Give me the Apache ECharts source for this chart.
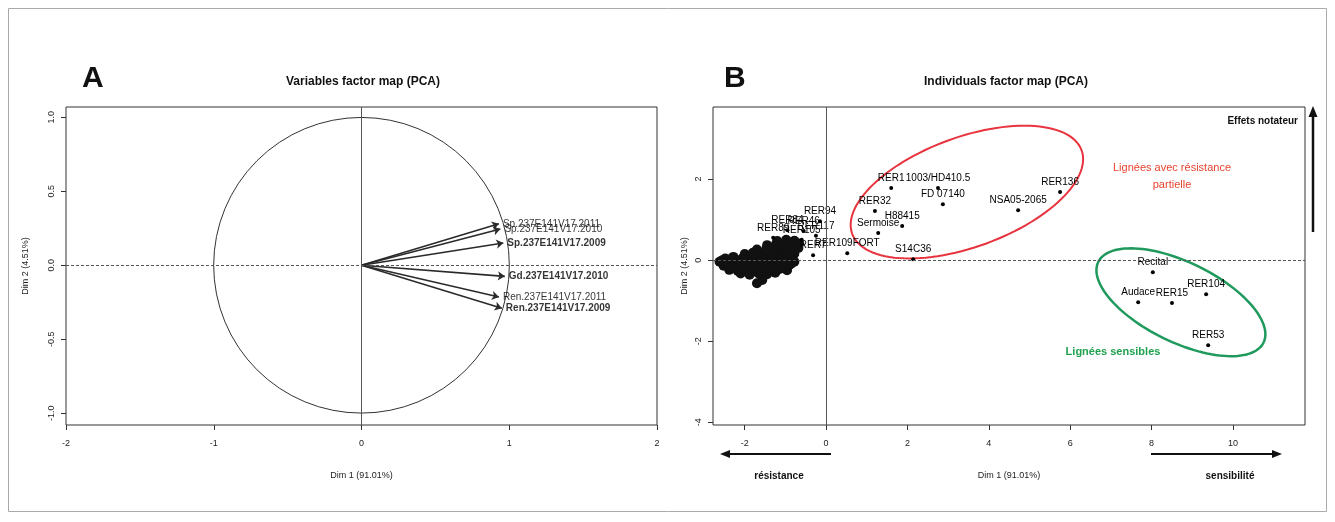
<!DOCTYPE html>
<html><head><meta charset="utf-8">
<script src="https://cdn.jsdelivr.net/npm/echarts@6/dist/echarts.min.js"></script>
<style>html,body{margin:0;padding:0;background:#fff}#c{width:1335px;height:522px}</style>
</head><body><div id="c"></div>
<script>
// ---------- Panel A : variables ----------
const varNames = ['Sp.237E141V17.2011','Sp.237E141V17.2010','Sp.237E141V17.2009','Gd.237E141V17.2010','Ren.237E141V17.2011','Ren.237E141V17.2009'];
const varX = [0.93, 0.94, 0.96, 0.97, 0.93, 0.95];
const varY = [0.28, 0.245, 0.15, -0.075, -0.215, -0.29];
const varBold = [false, false, true, true, false, true];
const xTicksA = [-2, -1, 0, 1, 2];
const yTicksA = [-1, -0.5, 0, 0.5, 1];

// ---------- Panel B : individuals ----------
const indNames = ['RER1','1003/HD410.5','FD 07140','RER32','H88415','Sermoise','S14C36','NSA05-2065','RER136',
  'Recital','Audace','RER15','RER104','RER53',
  'RER94','RER84','RER46','RER89','RER105','RER117','RER109FORT','RER7'];
const indX = [1.60, 2.75, 2.87, 1.20, 1.87, 1.28, 2.14, 4.72, 5.75,
  8.03, 7.67, 8.50, 9.34, 9.39,
  -0.15, -0.95, -0.55, -1.30, -0.60, -0.25, 0.52, -0.32];
const indY = [1.78, 1.78, 1.38, 1.21, 0.84, 0.67, 0.02, 1.23, 1.68,
  -0.30, -1.04, -1.06, -0.84, -2.10,
  0.96, 0.74, 0.72, 0.55, 0.50, 0.60, 0.17, 0.12];
// dense cluster of overlapping individuals (labels unreadable)
const blobX = [-2.48,-2.28,-2.05,-1.86,-1.66,-1.45,-1.24,-1.05,-0.86,
  -2.62,-2.42,-2.21,-2.00,-1.79,-1.58,-1.37,-1.16,-0.96,-0.78,
  -2.52,-2.33,-2.12,-1.92,-1.71,-1.50,-1.30,-1.10,-0.90,
  -2.38,-2.17,-1.96,-1.76,-1.55,-1.34,-1.14,-0.96,
  -2.10,-1.88,-1.66,-1.45,-1.25,
  -1.70,-1.57,
  -2.00,-1.80,-1.58,-1.38,-1.17,-0.97,-0.78,
  -1.70,-1.47,-1.26,-1.06,-0.86,-0.68,
  -1.45,-1.23,-1.02,-0.82,-0.66,
  -1.20,-0.98,-0.78,
  -2.55,-2.35,-2.15,-1.95,-1.75,-1.55,-1.35,-1.15,-0.95,
  -2.45,-2.25,-2.05,-1.85,-1.65,-1.45,-1.25,-1.05,-0.85,
  -2.25,-2.05,-1.85,-1.65,-1.45,-1.25];
const blobY = [0.04,0.08,0.05,0.09,0.05,0.10,0.06,0.11,0.07,
  -0.04,-0.06,-0.03,-0.07,-0.02,-0.06,-0.03,-0.05,-0.02,-0.04,
  -0.14,-0.17,-0.13,-0.16,-0.12,-0.15,-0.13,-0.16,-0.12,
  -0.24,-0.27,-0.23,-0.26,-0.24,-0.27,-0.22,-0.25,
  -0.33,-0.36,-0.33,-0.35,-0.31,
  -0.57,-0.49,
  0.15,0.18,0.16,0.19,0.15,0.18,0.16,
  0.26,0.28,0.25,0.29,0.26,0.30,
  0.37,0.40,0.36,0.39,0.41,
  0.47,0.50,0.48,
  0.00,0.02,-0.01,0.01,0.00,0.02,0.00,0.01,-0.01,
  -0.10,-0.09,-0.11,-0.08,-0.10,-0.09,-0.08,-0.10,-0.08,
  -0.20,-0.19,-0.21,-0.20,-0.19,-0.20];
// ellipses: [centerX, centerY, semiMajor, semiMinor, angleDeg]
const redEllipse = [3.46, 1.68, 3.0, 1.35, 20];
const greenEllipse = [8.72, -1.04, 2.26, 0.98, -26];
const xTicksB = [-2, 0, 2, 4, 6, 8, 10];
const yTicksB = [-4, -2, 0, 2];

const FONT = '"Liberation Sans", Arial, sans-serif';
const TXT = '#222';

function axisCommon(ticks, fmt, rotate, margin) {
  return {
    axisLine: {show: false, onZero: false},
    axisTick: {show: true, inside: false, length: 5, customValues: ticks, lineStyle: {color: '#333'}},
    axisLabel: {show: true, customValues: ticks, formatter: fmt, fontSize: 9, color: TXT, fontFamily: FONT, rotate: rotate, margin: margin},
    splitLine: {show: false}
  };
}

function ellipseRender(params, api) {
  const c = api.coord([api.value(0), api.value(1)]);
  const s = api.size([api.value(2), api.value(3)]);
  const A = s[0], B = s[0] * api.value(3) / api.value(2);
  const th = api.value(4) * Math.PI / 180;
  const pts = [];
  for (let i = 0; i <= 120; i++) {
    const t = i / 120 * 2 * Math.PI;
    const ex = A * Math.cos(t), ey = B * Math.sin(t);
    pts.push([c[0] + ex * Math.cos(th) - ey * Math.sin(th), c[1] - (ex * Math.sin(th) + ey * Math.cos(th))]);
  }
  return {type: 'polygon', shape: {points: pts}, style: {fill: 'none', stroke: params.seriesIndex === 9 ? '#e8343e' : '#1f9a5c', lineWidth: params.seriesIndex === 9 ? 2 : 2.5}};
}

const chart = echarts.init(document.getElementById('c'), null, {renderer: 'canvas'});
const option = {
  animation: false,
  backgroundColor: '#fff',
  textStyle: {fontFamily: FONT},
  grid: [
    {left: 66, top: 107, width: 591, height: 318, show: true, borderColor: '#333', borderWidth: 1, backgroundColor: 'transparent'},
    {left: 713, top: 107, width: 592, height: 318, show: true, borderColor: '#333', borderWidth: 1, backgroundColor: 'transparent'}
  ],
  xAxis: [
    Object.assign({gridIndex: 0, type: 'value', min: -2, max: 2, name: 'Dim 1 (91.01%)', nameLocation: 'middle', nameGap: 46,
      nameTextStyle: {fontSize: 9, color: TXT, fontFamily: FONT}}, axisCommon(xTicksA, v => String(v), 0, 14)),
    Object.assign({gridIndex: 1, type: 'value', min: -2.78, max: 11.77, name: 'Dim 1 (91.01%)', nameLocation: 'middle', nameGap: 46,
      nameTextStyle: {fontSize: 9, color: TXT, fontFamily: FONT}}, axisCommon(xTicksB, v => String(v), 0, 14))
  ],
  yAxis: [
    Object.assign({gridIndex: 0, type: 'value', min: -1.08, max: 1.07, name: 'Dim 2 (4.51%)', nameLocation: 'middle', nameGap: 36,
      nameTextStyle: {fontSize: 9, color: TXT, fontFamily: FONT}}, axisCommon(yTicksA, v => v.toFixed(1), 90, 10)),
    Object.assign({gridIndex: 1, type: 'value', min: -4.07, max: 3.78, name: 'Dim 2 (4.51%)', nameLocation: 'middle', nameGap: 24,
      nameTextStyle: {fontSize: 9, color: TXT, fontFamily: FONT}}, axisCommon(yTicksB, v => String(v), 90, 10))
  ],
  series: [
    // 0 correlation circle
    {type: 'custom', xAxisIndex: 0, yAxisIndex: 0, silent: true, data: [[0, 0, 1]],
      renderItem: (params, api) => {
        const c = api.coord([0, 0]);
        const r = api.size([1, 1]);
        return {type: 'circle', shape: {cx: c[0], cy: c[1], r: (r[0] + r[1]) / 2}, style: {fill: 'none', stroke: '#333', lineWidth: 1}};
      }},
    // 1 zero lines A
    {type: 'line', xAxisIndex: 0, yAxisIndex: 0, data: [], silent: true,
      markLine: {silent: true, symbol: 'none', label: {show: false},
        data: [
          {xAxis: 0, lineStyle: {type: 'solid', color: '#555', width: 1}},
          {yAxis: 0, lineStyle: {type: [3, 2], color: '#555', width: 1}}
        ]}},
    // 2 arrows
    {type: 'lines', coordinateSystem: 'cartesian2d', xAxisIndex: 0, yAxisIndex: 0, silent: true,
      symbol: ['none', 'arrow'], symbolSize: 7,
      lineStyle: {color: '#2a2a2a', width: 1.6, opacity: 1},
      data: varNames.map((n, i) => ({coords: [[0, 0], [varX[i], varY[i]]]}))},
    // 3 arrow labels
    {type: 'scatter', xAxisIndex: 0, yAxisIndex: 0, symbolSize: 0, silent: true,
      data: varNames.map((n, i) => ({value: [varX[i], varY[i]], name: n,
        label: {fontWeight: varBold[i] ? 'bold' : 'normal'}})),
      label: {show: true, position: 'right', distance: 4, formatter: p => p.name, fontSize: 10, color: '#000', fontFamily: FONT}},
    // 4 zero lines B
    {type: 'line', xAxisIndex: 1, yAxisIndex: 1, data: [], silent: true,
      markLine: {silent: true, symbol: 'none', label: {show: false},
        data: [
          {xAxis: 0, lineStyle: {type: 'solid', color: '#555', width: 1}},
          {yAxis: 0, lineStyle: {type: [3, 2], color: '#555', width: 1}}
        ]}},
    // 5 dense cluster
    {type: 'scatter', xAxisIndex: 1, yAxisIndex: 1, symbol: 'circle', symbolSize: 10, silent: true,
      itemStyle: {color: '#111', opacity: 1},
      data: blobX.map((x, i) => [x, blobY[i]])},
    // 6 labelled individuals
    {type: 'scatter', xAxisIndex: 1, yAxisIndex: 1, symbol: 'circle', symbolSize: 4, silent: true,
      itemStyle: {color: '#000', opacity: 1},
      data: indNames.map((n, i) => ({value: [indX[i], indY[i]], name: n})),
      label: {show: true, position: 'top', distance: 3, formatter: p => p.name, fontSize: 10, color: '#000', fontFamily: FONT}},
    // 7,8 placeholders to keep indices fixed
    {type: 'scatter', xAxisIndex: 1, yAxisIndex: 1, data: []},
    {type: 'scatter', xAxisIndex: 1, yAxisIndex: 1, data: []},
    // 9 red ellipse
    {type: 'custom', xAxisIndex: 1, yAxisIndex: 1, silent: true, data: [redEllipse], renderItem: ellipseRender},
    // 10 green ellipse
    {type: 'custom', xAxisIndex: 1, yAxisIndex: 1, silent: true, data: [greenEllipse], renderItem: ellipseRender}
  ],
  graphic: [
    {type: 'rect', shape: {x: 8.5, y: 8.5, width: 1318, height: 503}, style: {fill: 'none', stroke: '#aaa', lineWidth: 1}, silent: true},
    {type: 'text', x: 82, y: 79, style: {text: 'A', font: 'bold 30px ' + FONT, fill: '#111', verticalAlign: 'middle'}},
    {type: 'text', x: 363, y: 82, style: {text: 'Variables factor map (PCA)', font: 'bold 12px ' + FONT, fill: '#111', align: 'center', verticalAlign: 'middle'}},
    {type: 'text', x: 724, y: 79, style: {text: 'B', font: 'bold 30px ' + FONT, fill: '#111', verticalAlign: 'middle'}},
    {type: 'text', x: 1006, y: 82, style: {text: 'Individuals factor map (PCA)', font: 'bold 12px ' + FONT, fill: '#111', align: 'center', verticalAlign: 'middle'}},
    {type: 'text', x: 1298, y: 121, style: {text: 'Effets notateur', font: 'bold 10px ' + FONT, fill: '#111', align: 'right', verticalAlign: 'middle'}},
    {type: 'line', shape: {x1: 1313, y1: 232, x2: 1313, y2: 114}, style: {stroke: '#111', lineWidth: 2.5}},
    {type: 'polygon', shape: {points: [[1308.5, 117], [1317.5, 117], [1313, 106]]}, style: {fill: '#111'}},
    {type: 'text', x: 1172, y: 168, style: {text: 'Lignées avec résistance', font: '11px ' + FONT, fill: '#e8432f', align: 'center', verticalAlign: 'middle'}},
    {type: 'text', x: 1172, y: 185, style: {text: 'partielle', font: '11px ' + FONT, fill: '#e8432f', align: 'center', verticalAlign: 'middle'}},
    {type: 'text', x: 1113, y: 352, style: {text: 'Lignées sensibles', font: 'bold 11px ' + FONT, fill: '#1fa14f', align: 'center', verticalAlign: 'middle'}},
    {type: 'line', shape: {x1: 831, y1: 454, x2: 728, y2: 454}, style: {stroke: '#111', lineWidth: 2}},
    {type: 'polygon', shape: {points: [[730, 450], [730, 458], [720, 454]]}, style: {fill: '#111'}},
    {type: 'text', x: 779, y: 476, style: {text: 'résistance', font: 'bold 10px ' + FONT, fill: '#111', align: 'center', verticalAlign: 'middle'}},
    {type: 'line', shape: {x1: 1151, y1: 454, x2: 1274, y2: 454}, style: {stroke: '#111', lineWidth: 2}},
    {type: 'polygon', shape: {points: [[1272, 450], [1272, 458], [1282, 454]]}, style: {fill: '#111'}},
    {type: 'text', x: 1230, y: 476, style: {text: 'sensibilité', font: 'bold 10px ' + FONT, fill: '#111', align: 'center', verticalAlign: 'middle'}}
  ]
};
chart.setOption(option);
</script></body></html>
